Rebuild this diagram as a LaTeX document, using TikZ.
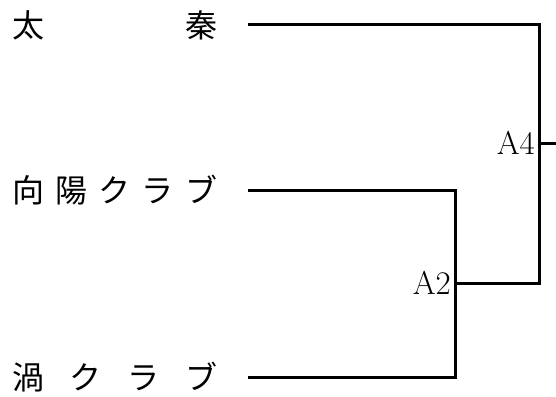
\documentclass[tikz,border=0pt]{standalone}
\usepackage{fontspec}
\newfontfamily\cjk{Noto Sans CJK JP}
\tikzset{
  team/.style={anchor=west, inner sep=0pt, font=\cjk\fontsize{32}{36}\selectfont},
  lab/.style={anchor=east, inner sep=0pt, font=\fontsize{33}{38}\selectfont},
  bline/.style={line width=3pt, line join=miter, line cap=butt}
}
\begin{document}
\begin{tikzpicture}[x=1pt,y=1pt]
\useasboundingbox (0,0) rectangle (556,-396);
\node[team] (t1) at (12,-25) {\makebox[205pt][s]{太\hfill 秦}};
\node[team] (t2) at (12,-190) {\makebox[205pt][s]{向\hfill 陽\hfill ク\hfill ラ\hfill ブ}};
\node[team] (t3) at (12,-377) {\makebox[205pt][s]{渦\hfill ク\hfill ラ\hfill ブ}};
\node[lab] (A4) at (535,-143) {A4};
\node[lab] (A2) at (451,-283) {A2};
\coordinate (s1) at (248,-25);
\coordinate (s2) at (248,-190);
\coordinate (s3) at (248,-377);
\coordinate (j2) at (455,-283);
\coordinate (c1) at (539,-25);
\coordinate (c2) at (539,-283);
\coordinate (j4) at (539,-143);
\coordinate (out) at (556,-143);
\draw[bline] (s1) -- (c1) -- (c2) -- (j2);
\draw[bline] (s2) -| (j2) |- (s3);
\draw[bline] (j4) -- (out);
\end{tikzpicture}
\end{document}
